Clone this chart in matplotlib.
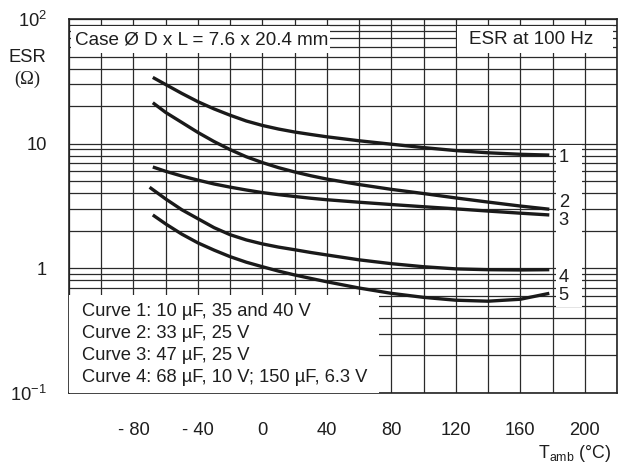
import matplotlib
matplotlib.use('Agg')
import matplotlib.pyplot as plt
from matplotlib.patches import Rectangle
from matplotlib.ticker import FixedLocator, LogLocator, NullFormatter

plt.rcParams['font.family'] = ['Liberation Sans', 'DejaVu Sans']
plt.rcParams['mathtext.fontset'] = 'custom'
plt.rcParams['mathtext.rm'] = 'Liberation Sans'
plt.rcParams['mathtext.it'] = 'Liberation Sans'

# ESR vs ambient temperature
temp = [-68, -60, -50, -40, -30, -20, -10, 0, 10, 20, 30, 40, 60, 80, 100, 120, 140, 160, 178]
curve1 = [34, 29.8, 25.3, 21.7, 19.0, 16.9, 15.2, 14.0, 13.1, 12.4, 11.85, 11.35, 10.55, 9.9, 9.3, 8.8, 8.45, 8.22, 8.1]
curve2 = [21.3, 17.8, 14.8, 12.3, 10.4, 8.95, 7.85, 7.05, 6.42, 5.93, 5.53, 5.2, 4.7, 4.3, 3.98, 3.67, 3.4, 3.16, 2.98]
curve3 = [6.5, 6.0, 5.5, 5.1, 4.75, 4.48, 4.25, 4.05, 3.9, 3.77, 3.65, 3.55, 3.39, 3.25, 3.12, 3.0, 2.88, 2.77, 2.68]
temp4 = [-70, -60, -50, -40, -30, -20, -10, 0, 10, 20, 30, 40, 60, 80, 100, 120, 140, 160, 178]
curve4 = [4.47, 3.6, 2.95, 2.5, 2.12, 1.86, 1.69, 1.57, 1.48, 1.41, 1.34, 1.28, 1.17, 1.09, 1.03, 0.99, 0.975, 0.97, 0.975]
curve5 = [2.68, 2.27, 1.88, 1.6, 1.4, 1.24, 1.12, 1.03, 0.95, 0.885, 0.83, 0.78, 0.695, 0.63, 0.585, 0.555, 0.545, 0.565, 0.63]

curve_ids = ['1', '2', '3', '4', '5']
label_vals = [7.8, 3.4, 2.4, 0.84, 0.60]

x_ticks = [-80, -40, 0, 40, 80, 120, 160, 200]
x_ticklabels = ['- 80', '- 40', '0', '40', '80', '120', '160', '200']
x_grid = list(range(-120, 221, 20))
y_ticks = [0.1, 1, 10, 100]
y_ticklabels = ['$10^{-1}$', '1', '10', '$10^{2}$']

legend_lines = ['Curve 1: 10 \u00b5F, 35 and 40 V',
                'Curve 2: 33 \u00b5F, 25 V',
                'Curve 3: 47 \u00b5F, 25 V',
                'Curve 4: 68 \u00b5F, 10 V; 150 \u00b5F, 6.3 V']

fig = plt.figure(figsize=(6.18, 4.63), dpi=100)
ax = fig.add_axes([69 / 618, 70 / 463, 548 / 618, 374 / 463])

ax.set_yscale('log')
ax.set_xlim(-120, 220)
ax.set_ylim(0.1, 100)

ax.xaxis.set_major_locator(FixedLocator(x_ticks))
ax.set_xticklabels(x_ticklabels)
ax.xaxis.set_minor_locator(FixedLocator(x_grid))
ax.yaxis.set_major_locator(FixedLocator(y_ticks))
ax.set_yticklabels(y_ticklabels)
ax.yaxis.set_minor_locator(LogLocator(base=10, subs=range(2, 10)))
ax.yaxis.set_minor_formatter(NullFormatter())

ax.grid(True, which='both', color='#2a2a2a', linewidth=0.9)
ax.tick_params(which='both', length=0, labelsize=13.2, colors='#1e1e1e')
ax.tick_params(axis='x', pad=21)
ax.tick_params(axis='y', pad=16)
for sp in ax.spines.values():
    sp.set_linewidth(1.2)
    sp.set_color('#222222')

for t, c in [(temp, curve1), (temp, curve2), (temp, curve3), (temp4, curve4), (temp, curve5)]:
    ax.plot(t, c, color='#1a1a1a', linewidth=2.4, solid_capstyle='butt', zorder=4)

# white panels covering the grid
boxes = [(0.003, 0.909, 0.473, 0.072),
         (0.708, 0.909, 0.285, 0.072),
         (0.0, 0.0, 0.566, 0.262),
         (0.889, 0.230, 0.047, 0.433)]
for bx, by, bw, bh in boxes:
    ax.add_patch(Rectangle((bx, by), bw, bh, transform=ax.transAxes,
                           facecolor='white', edgecolor='none', zorder=3))

ax.text(0.011, 0.945, 'Case \u00d8 D x L = 7.6 x 20.4 mm', transform=ax.transAxes,
        fontsize=13.6, va='center', ha='left', color='#1e1e1e', zorder=5)
ax.text(0.73, 0.945, 'ESR at 100 Hz', transform=ax.transAxes,
        fontsize=13.6, va='center', ha='left', color='#1e1e1e', zorder=5)

for cid, v in zip(curve_ids, label_vals):
    ax.text(187, v, cid, fontsize=13.2, ha='center', va='center', color='#1e1e1e', zorder=5)

for i, line in enumerate(legend_lines):
    ax.text(0.024, 0.219 - i * 0.0595, line, transform=ax.transAxes,
            fontsize=13.2, ha='left', va='center', color='#1e1e1e', zorder=5)

fig.text(27 / 618, 1 - 58 / 463, 'ESR', fontsize=13.2, ha='center', va='center', color='#1e1e1e')
fig.text(27 / 618, 1 - 79 / 463, '(\u03a9)', fontsize=13.2, ha='center', va='center',
         family='Liberation Serif', color='#1e1e1e')
fig.text(611 / 618, 1 - 454 / 463, 'T$_{\\mathrm{amb}}$ (\u00b0C)', fontsize=12.8,
         ha='right', va='center', color='#1e1e1e')

fig.savefig('out.png', dpi=100)
